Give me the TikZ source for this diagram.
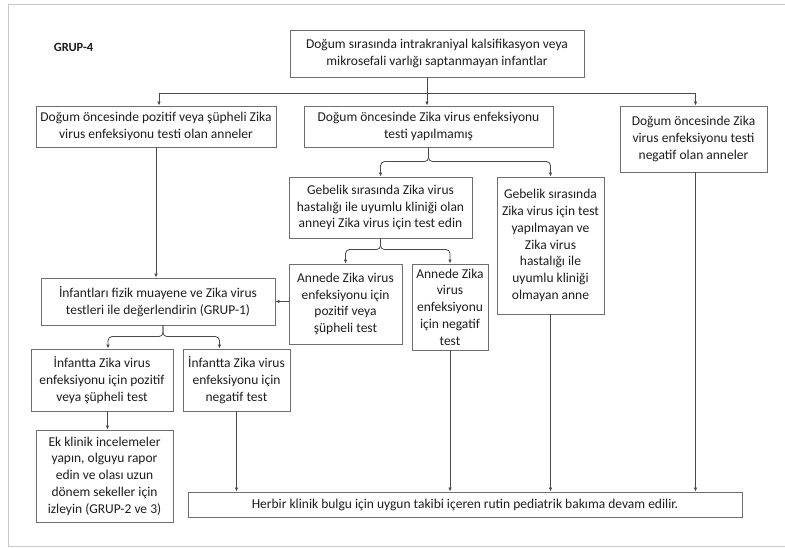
\documentclass[tikz,border=0pt]{standalone}
\usepackage{fontspec}
\setmainfont{Carlito}
\usetikzlibrary{arrows.meta,calc}
\definecolor{boxgray}{HTML}{6E6E6E}
\definecolor{linegray}{HTML}{4A4A4A}
\definecolor{framegray}{HTML}{C8C8C8}
\definecolor{txt}{HTML}{1E1E1E}
\tikzset{
  flowbox/.style={draw=boxgray,line width=.9pt,align=center,inner sep=1pt,text=txt,font=\fontsize{13.5}{16.8}\selectfont},
  arr/.style={draw=linegray,line width=.8pt,-{Latex[length=4pt,width=3.5pt]}},
}
\begin{document}
\begin{tikzpicture}[x=1pt,y=-1pt]
\useasboundingbox (0,0) rectangle (785,547);
\fill[white] (0,0) rectangle (785,547);
\draw[framegray,line width=.8pt] (785,4)--(8,4)--(8,546)--(785,546);
\node[font=\bfseries\fontsize{12.5}{15}\selectfont,text=txt] (grup) at (73.5,47) {GRUP-4};
\node[flowbox,minimum width=294,minimum height=47] (top) at (437,53.5) {Doğum sırasında intrakraniyal kalsifikasyon veya\\mikrosefali varlığı saptanmayan infantlar};
\node[flowbox,minimum width=240,minimum height=41] (pos) at (156,126.5) {Doğum öncesinde pozitif veya şüpheli Zika\\virus enfeksiyonu testi olan anneler};
\node[flowbox,minimum width=249,minimum height=41] (yok) at (428.5,126.5) {Doğum öncesinde Zika virus enfeksiyonu\\testi yapılmamış};
\node[flowbox,minimum width=147,minimum height=66] (neg) at (693.5,139) {Doğum öncesinde Zika\\virus enfeksiyonu testi\\negatif olan anneler};
\node[flowbox,minimum width=183,minimum height=61] (klinik) at (380.5,207.5) {Gebelik sırasında Zika virus\\hastalığı ile uyumlu kliniği olan\\anneyi Zika virus için test edin};
\node[flowbox,minimum width=107,minimum height=137] (testsiz) at (550.5,245.5) {Gebelik sırasında\\Zika virus için test\\yapılmayan ve\\Zika virus\\hastalığı ile\\uyumlu kliniği\\olmayan anne};
\node[flowbox,minimum width=113,minimum height=80] (annepos) at (345.5,304) {Annede Zika virus\\enfeksiyonu için\\pozitif veya\\şüpheli test};
\node[flowbox,minimum width=76,minimum height=86] (anneneg) at (450,307) {Annede Zika\\virus\\enfeksiyonu\\için negatif\\test};
\node[flowbox,minimum width=234,minimum height=47] (grup1) at (158,301.5) {İnfantları fizik muayene ve Zika virus\\testleri ile değerlendirin (GRUP-1)};
\node[flowbox,minimum width=142,minimum height=62] (infpos) at (102,380) {İnfantta Zika virus\\enfeksiyonu için pozitif\\veya şüpheli test};
\node[flowbox,minimum width=107,minimum height=62] (infneg) at (236.5,380) {İnfantta Zika virus\\enfeksiyonu için\\negatif test};
\node[flowbox,minimum width=137,minimum height=92] (izle) at (104.5,476) {Ek klinik incelemeler\\yapın, olguyu rapor\\edin ve olası uzun\\dönem sekeller için\\izleyin (GRUP-2 ve 3)};
\node[flowbox,minimum width=554,minimum height=25] (rutin) at (465,504.5) {Herbir klinik bulgu için uygun takibi içeren rutin pediatrik bakıma devam edilir.};
\coordinate (split) at (427,93);
\draw[arr] (split |- top.south) -- (split |- yok.north);
\draw[arr] (split) -| ([xshift=3pt]pos.north);
\draw[arr] (split) -| ([xshift=2pt]neg.north);
\draw[arr,rounded corners=4pt] (yok.south) |- ([yshift=15pt]klinik.north) -- (klinik.north);
\draw[arr,rounded corners=4pt] (yok.south) |- ([yshift=15pt]testsiz.north) -- (testsiz.north);
\draw[arr,rounded corners=4pt] (klinik.south) |- ([yshift=14pt]annepos.north) -- (annepos.north);
\draw[arr,rounded corners=4pt] (klinik.south) |- ([yshift=14pt]anneneg.north) -- (anneneg.north);
\draw[arr] (pos.south) -- (pos.south |- grup1.north);
\draw[arr] (annepos.west |- grup1.east) -- (grup1.east);
\draw[arr,rounded corners=4pt] ([xshift=5pt]grup1.south) |- ([xshift=6pt,yshift=12pt]infpos.north) -- ([xshift=6pt]infpos.north);
\draw[arr,rounded corners=4pt] ([xshift=5pt]grup1.south) |- ([xshift=-17pt,yshift=12pt]infneg.north) -- ([xshift=-17pt]infneg.north);
\draw[arr] ([xshift=3pt]izle.north |- infpos.south) -- ([xshift=3pt]izle.north);
\draw[arr] (infneg.south) -- (infneg.south |- rutin.north);
\draw[arr] (anneneg.south) -- (anneneg.south |- rutin.north);
\draw[arr] (testsiz.south) -- (testsiz.south |- rutin.north);
\draw[arr] ([xshift=2pt]neg.south) -- ([xshift=2pt]neg.south |- rutin.north);
\end{tikzpicture}
\end{document}
